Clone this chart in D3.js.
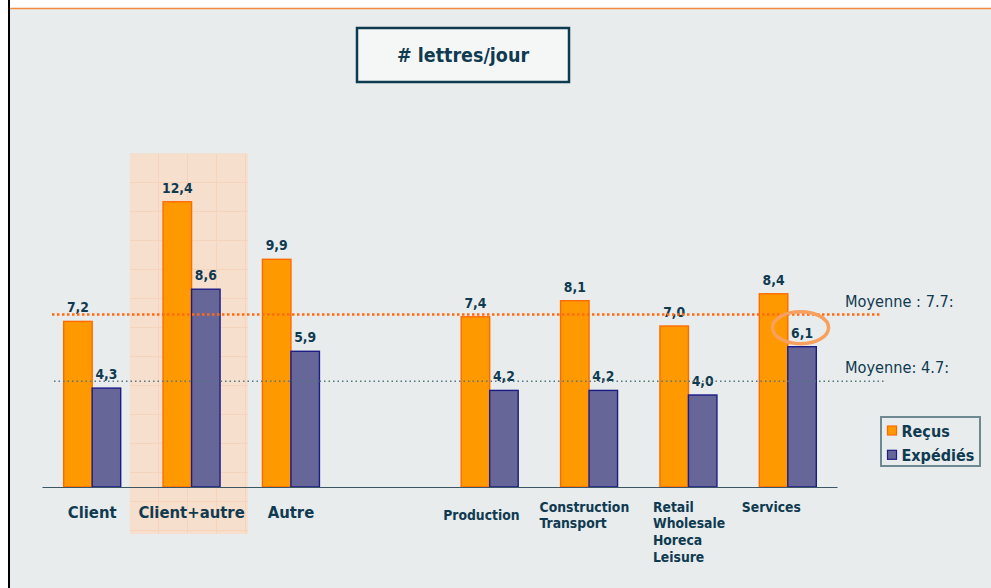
<!DOCTYPE html>
<html>
<head>
<meta charset="utf-8">
<title># lettres/jour</title>
<script src="https://d3js.org/d3.v7.min.js"></script>
<style>
  body { margin: 0; background: #fff; }
  svg { display: block; }
  text { font-family: "DejaVu Sans Condensed", "DejaVu Sans", sans-serif; font-stretch: condensed; fill: #0f3a50; }
</style>
</head>
<body>
<svg width="991" height="588"></svg>
<script>
// données
const categories = ["Client", "Client+autre", "Autre", "Production", "Construction\nTransport", "Retail\nWholesale\nHoreca\nLeisure", "Services"];
const recus = [7.2, 12.4, 9.9, 7.4, 8.1, 7.0, 8.4];
const expedies = [4.3, 8.6, 5.9, 4.2, 4.2, 4.0, 6.1];
const seriesNames = ["Reçus", "Expédiés"];
const meanLabels = ["Moyenne : 7.7:", "Moyenne: 4.7:"];
const meanLines = [7.5, 4.6];   // position des lignes
const titleText = "# lettres/jour";
const highlighted = "Client+autre";
const circled = "Services";

const colors = { fill: ["#ff9900", "#666699"], stroke: ["#ff6a00", "#1c1c86"] };

const svg = d3.select("svg");

// fond
svg.append("rect").attr("width", 991).attr("height", 588).attr("fill", "#fff");
svg.append("rect").attr("x", 10).attr("y", 9).attr("width", 981).attr("height", 579).attr("fill", "#e8eced");
svg.append("rect").attr("x", 8).attr("y", 0).attr("width", 2).attr("height", 588).attr("fill", "#000");
svg.append("line").attr("x1", 10).attr("x2", 991).attr("y1", 8.5).attr("y2", 8.5)
  .attr("stroke", "#f48a3c").attr("stroke-width", 1.5);

// échelles
const slots = [...categories.slice(0, 3), "__gap", ...categories.slice(3)];
const x = d3.scaleBand().domain(slots).range([42.5, 837.5]).padding(0);
const xs = d3.scaleBand().domain(seriesNames).range([-28.5, 28.5]);
const y = d3.scaleLinear().domain([0, 14]).range([487, 487 - 14 * 23]);
const cx = c => x(c) + x.bandwidth() / 2;

const fmt = v => d3.format(".1f")(v).replace(".", ",");

// zone mise en évidence
const defs = svg.append("defs");
const pat = defs.append("pattern").attr("id", "grid")
  .attr("patternUnits", "userSpaceOnUse").attr("width", 29).attr("height", 29)
  .attr("x", 130).attr("y", 154);
pat.append("rect").attr("width", 29).attr("height", 29).attr("fill", "#f7dfcd");
pat.append("path").attr("d", "M28.5,0V29M0,28.5H29").attr("stroke", "#f6d4bb").attr("stroke-width", 1);
svg.append("rect")
  .attr("x", x(highlighted) - 12).attr("y", y(14.5))
  .attr("width", 118).attr("height", 534 - y(14.5))
  .attr("fill", "url(#grid)");

// titre
svg.append("rect").attr("x", 357).attr("y", 28).attr("width", 212).attr("height", 54)
  .attr("fill", "#f5f7f7").attr("stroke", "#0e3a50").attr("stroke-width", 2.5);
svg.append("text").attr("x", 463).attr("y", 61.5).attr("text-anchor", "middle")
  .attr("font-size", 19.5).attr("font-weight", "bold").text(titleText);

// barres
const rows = categories.map((c, i) => ({ cat: c, values: [recus[i], expedies[i]] }));
const groups = svg.append("g").selectAll("g").data(rows).join("g")
  .attr("transform", d => `translate(${cx(d.cat)},0)`);

groups.selectAll("rect").data(d => d.values.map((v, k) => ({ v, k, s: seriesNames[k] })))
  .join("rect")
  .attr("x", d => xs(d.s)).attr("width", xs.bandwidth())
  .attr("y", d => y(d.v)).attr("height", d => y(0) - y(d.v))
  .attr("fill", d => colors.fill[d.k]).attr("stroke", d => colors.stroke[d.k]).attr("stroke-width", 1.4);

groups.selectAll("text.val").data(d => d.values.map((v, k) => ({ v, k, s: seriesNames[k] })))
  .join("text").attr("class", "val")
  .attr("x", d => xs(d.s) + xs.bandwidth() / 2).attr("y", d => y(d.v) - 9)
  .attr("text-anchor", "middle").attr("font-size", 13.8).attr("font-weight", "bold")
  .text(d => fmt(d.v));

// ligne de base
svg.append("line").attr("x1", 42.5).attr("x2", 837.5).attr("y1", y(0) + 0.5).attr("y2", y(0) + 0.5)
  .attr("stroke", "#3b5763").attr("stroke-width", 1.2);

// moyennes
svg.append("line").attr("x1", 52).attr("x2", 882).attr("y1", y(meanLines[0])).attr("y2", y(meanLines[0]))
  .attr("stroke", "#ff6a13").attr("stroke-width", 2.5).attr("stroke-dasharray", "2.5,2.5");
svg.append("line").attr("x1", 54).attr("x2", 885).attr("y1", y(meanLines[1])).attr("y2", y(meanLines[1]))
  .attr("stroke", "#557680").attr("stroke-width", 1.5).attr("stroke-dasharray", "1.5,3");
svg.append("text").attr("x", 845).attr("y", 306.5).attr("font-size", 16.2).text(meanLabels[0]);
svg.append("text").attr("x", 845).attr("y", 372.5).attr("font-size", 16.2).text(meanLabels[1]);

// cercle autour de la valeur
const ci = categories.indexOf(circled);
svg.append("ellipse")
  .attr("cx", cx(circled) + xs(seriesNames[1]) + xs.bandwidth() / 2 - 1.5)
  .attr("cy", y(expedies[ci]) - 19)
  .attr("rx", 28).attr("ry", 16)
  .attr("fill", "none").attr("stroke", "#f8a05e").attr("stroke-width", 3.5);

// étiquettes des catégories
const labelDx = { "Production": -46.5, "Construction\nTransport": -49.5, "Retail\nWholesale\nHoreca\nLeisure": -35.5, "Services": -46 };
categories.forEach((c, i) => {
  if (i < 3) {
    svg.append("text").attr("x", cx(c)).attr("y", 517.5).attr("text-anchor", "middle")
      .attr("font-size", 16.5).attr("font-weight", "bold").text(c);
  } else {
    const lines = c.split("\n");
    const t = svg.append("text").attr("font-size", 13.8).attr("font-weight", "bold")
      .attr("x", cx(c) + labelDx[c]).attr("y", c === "Production" ? 519.5 : 511.5);
    lines.forEach((l, j) => t.append("tspan").attr("x", cx(c) + labelDx[c]).attr("dy", j ? 16.7 : 0).text(l));
  }
});

// légende
svg.append("rect").attr("x", 881).attr("y", 417).attr("width", 99).attr("height", 49)
  .attr("fill", "none").attr("stroke", "#6f8993").attr("stroke-width", 2);
seriesNames.forEach((s, k) => {
  svg.append("rect").attr("x", 887.5).attr("y", 426 + k * 24.3).attr("width", 9).attr("height", 9)
    .attr("fill", colors.fill[k]).attr("stroke", colors.stroke[k]).attr("stroke-width", 1.2);
  svg.append("text").attr("x", 901.5).attr("y", 437 + k * 23.5)
    .attr("font-size", 16).attr("font-weight", "bold").text(s);
});
</script>
</body>
</html>
